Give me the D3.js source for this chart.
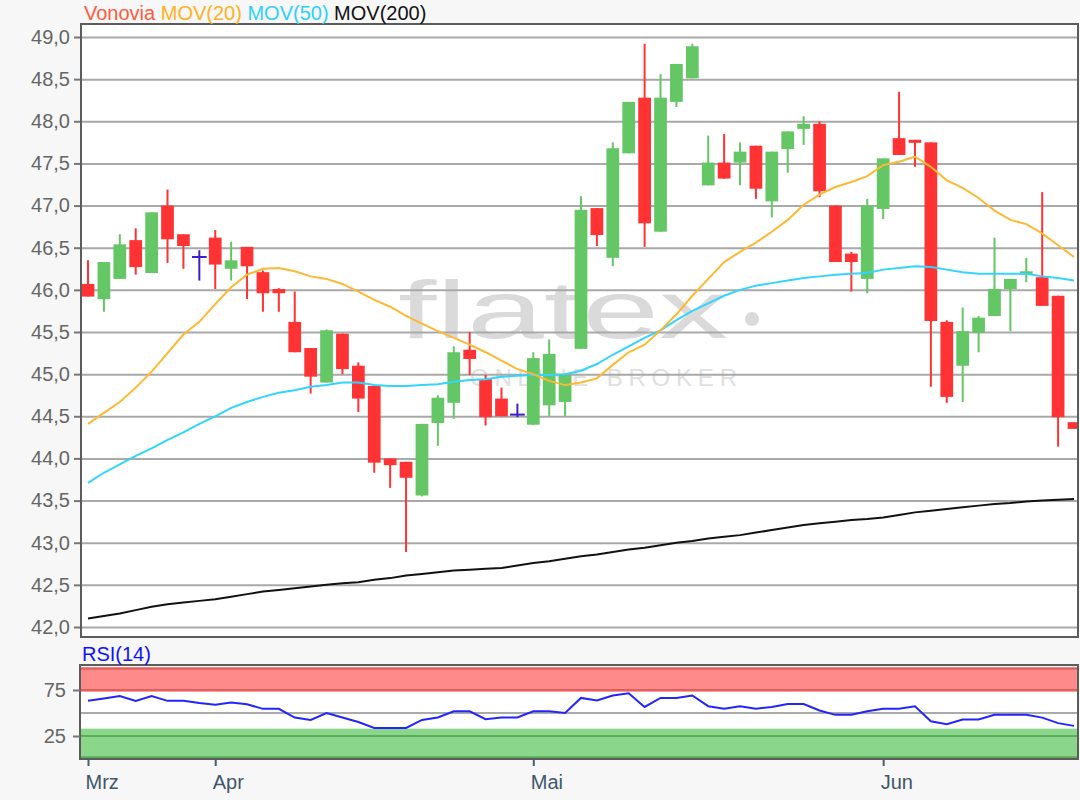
<!DOCTYPE html>
<html>
<head>
<meta charset="utf-8">
<script src="https://cdn.jsdelivr.net/npm/d3@7"></script>
<style>
  body { margin: 0; background: #f7f7f7; }
  svg text { font-family: "Liberation Sans", Arial, sans-serif; }
</style>
</head>
<body>
<svg id="chart" width="1080" height="800"></svg>
<script>
// Vonovia daily candles, mid-March to mid-June
const open = [46.07, 45.89, 46.13, 46.59, 46.20, 47.00, 46.66, 46.39, 46.62, 46.25,
  46.51, 46.21, 46.01, 45.62, 45.31, 44.90, 45.48, 45.10, 44.86, 44.00,
  43.96, 43.56, 44.42, 44.66, 45.29, 44.94, 44.71, 44.52, 44.40, 44.63,
  44.67, 45.30, 46.97, 46.38, 47.62, 48.28, 46.69, 48.23, 48.51, 47.24,
  47.51, 47.51, 47.71, 47.05, 47.67, 47.91, 47.97, 47.00, 46.43, 46.13,
  46.96, 47.80, 47.78, 47.75, 45.62, 45.10, 45.49, 45.69, 46.01, 46.19,
  46.15, 45.93, 44.43];
const high = [46.35, 46.33, 46.66, 46.73, 46.92, 47.19, 46.66, 46.47, 46.71, 46.57,
  46.51, 46.23, 46.02, 45.98, 45.31, 45.53, 45.48, 45.14, 44.86, 44.00,
  43.96, 44.41, 44.75, 45.33, 45.50, 44.99, 44.84, 44.65, 45.26, 45.41,
  44.99, 47.11, 46.97, 47.75, 48.23, 48.92, 48.56, 48.68, 48.92, 47.83,
  47.85, 47.75, 47.71, 47.64, 47.88, 48.06, 48.00, 47.00, 46.45, 47.08,
  47.56, 48.35, 47.78, 47.75, 45.64, 45.79, 45.69, 46.62, 46.13, 46.38,
  47.16, 45.93, 44.43];
const low = [45.92, 45.74, 46.13, 46.18, 46.20, 46.32, 46.25, 46.11, 46.01, 46.11,
  45.89, 45.74, 45.74, 45.26, 44.77, 44.90, 45.00, 44.55, 43.83, 43.65,
  42.89, 43.55, 44.15, 44.47, 44.99, 44.39, 44.50, 44.49, 44.40, 44.50,
  44.50, 45.30, 46.52, 46.28, 47.62, 46.51, 46.69, 48.17, 48.51, 47.24,
  47.32, 47.24, 47.08, 46.86, 47.39, 47.72, 47.10, 46.33, 45.98, 45.96,
  46.84, 47.60, 47.46, 44.85, 44.66, 44.67, 45.26, 45.69, 45.51, 46.09,
  45.81, 44.14, 44.35];
const close = [45.92, 46.33, 46.54, 46.27, 46.92, 46.60, 46.52, 46.39, 46.30, 46.35,
  46.28, 45.96, 45.96, 45.26, 44.97, 45.52, 45.06, 44.71, 43.95, 43.92,
  43.77, 44.41, 44.72, 45.26, 45.18, 44.49, 44.50, 44.52, 45.19, 45.24,
  44.99, 46.95, 46.65, 47.68, 48.23, 46.79, 48.28, 48.68, 48.89, 47.51,
  47.32, 47.64, 47.20, 47.64, 47.88, 47.97, 47.17, 46.33, 46.33, 47.00,
  47.56, 47.60, 47.75, 45.63, 44.73, 45.51, 45.67, 46.01, 46.13, 46.22,
  45.81, 44.49, 44.35];

const mov20 = [44.41, 44.54, 44.67, 44.84, 45.03, 45.25, 45.47, 45.62, 45.83, 46.03,
  46.18, 46.25, 46.26, 46.22, 46.16, 46.13, 46.07, 45.98, 45.88, 45.80,
  45.69, 45.60, 45.51, 45.43, 45.35, 45.26, 45.16, 45.06, 45.00, 44.92,
  44.87, 44.90, 44.95, 45.11, 45.26, 45.35, 45.52, 45.71, 45.93, 46.13,
  46.33, 46.45, 46.56, 46.69, 46.83, 47.01, 47.13, 47.22, 47.28, 47.35,
  47.48, 47.52, 47.58, 47.46, 47.30, 47.21, 47.09, 46.94, 46.83, 46.78,
  46.67, 46.53, 46.39];
const mov50 = [43.71, 43.83, 43.93, 44.03, 44.12, 44.22, 44.31, 44.41, 44.50, 44.60,
  44.67, 44.73, 44.78, 44.81, 44.85, 44.87, 44.90, 44.90, 44.87, 44.86,
  44.86, 44.87, 44.88, 44.91, 44.93, 44.94, 44.97, 44.98, 44.99, 44.99,
  45.00, 45.04, 45.12, 45.23, 45.33, 45.43, 45.52, 45.64, 45.75, 45.84,
  45.93, 46.00, 46.05, 46.08, 46.11, 46.14, 46.16, 46.18, 46.19, 46.20,
  46.24, 46.26, 46.28, 46.27, 46.24, 46.21, 46.19, 46.19, 46.19, 46.19,
  46.16, 46.14, 46.11];
const mov200 = [42.10, 42.13, 42.16, 42.20, 42.24, 42.27, 42.29, 42.31, 42.33, 42.36,
  42.39, 42.42, 42.44, 42.46, 42.48, 42.50, 42.52, 42.53, 42.56, 42.58,
  42.61, 42.63, 42.65, 42.67, 42.68, 42.69, 42.70, 42.73, 42.76, 42.78,
  42.81, 42.84, 42.86, 42.89, 42.92, 42.94, 42.97, 43.00, 43.02, 43.05,
  43.07, 43.09, 43.12, 43.15, 43.18, 43.21, 43.23, 43.25, 43.27, 43.28,
  43.30, 43.33, 43.36, 43.38, 43.40, 43.42, 43.44, 43.46, 43.47, 43.49,
  43.50, 43.51, 43.52];

const rsi = [63.2, 65.8, 68.4, 63.2, 68.4, 63.2, 63.2, 60.9, 59.0, 61.3,
  59.4, 54.5, 54.5, 45.1, 42.5, 50.0, 45.1, 40.2, 33.8, 33.8,
  33.8, 42.5, 45.1, 51.9, 51.9, 43.2, 45.1, 45.1, 51.8, 52.0,
  50.0, 66.4, 63.6, 69.1, 71.4, 56.6, 66.4, 66.4, 69.1, 57.4,
  54.7, 57.4, 54.7, 56.6, 59.7, 59.7, 52.7, 48.0, 48.0, 52.0,
  54.7, 54.7, 57.4, 41.0, 37.9, 43.0, 43.0, 48.0, 48.0, 48.0,
  45.0, 39.0, 36.0];

const priceTicks = [42, 42.5, 43, 43.5, 44, 44.5, 45, 45.5, 46, 46.5, 47, 47.5, 48, 48.5, 49];
const rsiTicks = [25, 75];
const rsiOverbought = [73, 100];
const rsiOversold = [0, 33];
const monthLabels = ['Mrz', 'Apr', 'Mai', 'Jun'];
const monthStart = [0, 8, 28, 50];   // candle index of first trading day shown

const legend = [
  { label: 'Vonovia', color: '#ff5a3c' },
  { label: 'MOV(20)', color: '#ffb21e' },
  { label: 'MOV(50)', color: '#2ed0ff' },
  { label: 'MOV(200)', color: '#111111' },
];

const svg = d3.select('#chart');
const plot = { left: 81, right: 1078, top: 24, bottom: 637 };
const rsiBox = { left: 80, right: 1078, top: 665, bottom: 759 };

const x = d3.scaleLinear().domain([0, close.length - 1]).range([88, 1074]);
const y = d3.scaleLinear().domain([42, 49]).range([627, 37]);
const yR = d3.scaleLinear().domain([0, 100]).range([759, 667]);
const step = x(1) - x(0);
const bodyW = step * 0.8;

const de = d3.formatLocale({ decimal: ',', thousands: '.', grouping: [3], currency: ['', ' €'] });
const fmt = de.format('.1f');

svg.append('clipPath').attr('id', 'plot-clip')
  .append('rect')
    .attr('x', plot.left).attr('y', plot.top)
    .attr('width', plot.right - plot.left).attr('height', plot.bottom - plot.top);

// Plot background
svg.append('rect')
  .attr('x', plot.left).attr('y', plot.top)
  .attr('width', plot.right - plot.left).attr('height', plot.bottom - plot.top)
  .attr('fill', '#fff');

// Watermark
const wm = svg.append('g').attr('fill', '#dadada');
wm.append('text')
  .attr('x', 398).attr('y', 338)
  .attr('font-family', '"Open Sans", sans-serif')
  .attr('font-weight', 400)
  .attr('font-size', 82)
  .attr('textLength', 330)
  .attr('lengthAdjust', 'spacingAndGlyphs')
  .text('flatex');
wm.append('circle').attr('cx', 752).attr('cy', 319).attr('r', 7);
wm.append('text')
  .attr('x', 470).attr('y', 386)
  .attr('font-family', '"Open Sans", sans-serif')
  .attr('font-size', 24)
  .attr('fill', '#e0e0e0')
  .attr('textLength', 267)
  .attr('lengthAdjust', 'spacing')
  .text('ONLINE BROKER');

// Grid lines
svg.append('g')
  .attr('transform', `translate(${plot.left}, 0)`)
  .call(d3.axisRight(y).tickValues(priceTicks).tickSize(plot.right - plot.left).tickFormat(''))
  .call(g => g.select('.domain').remove())
  .call(g => g.selectAll('.tick line').attr('stroke', '#a9a9a9').attr('stroke-width', 2));

// Y labels
svg.append('g')
  .attr('transform', `translate(${plot.left}, 0)`)
  .call(d3.axisLeft(y).tickValues(priceTicks).tickSize(7).tickPadding(4).tickFormat(fmt))
  .call(g => g.select('.domain').remove())
  .call(g => g.selectAll('.tick line').attr('stroke', '#777').attr('stroke-width', 2))
  .call(g => g.selectAll('.tick text')
    .attr('fill', '#666').attr('font-size', 20)
    .attr('font-family', '"Liberation Sans", Arial, sans-serif'));

// Candles
const candles = svg.append('g').attr('clip-path', 'url(#plot-clip)');
const idx = d3.range(close.length);
const up = '#64c664', down = '#ff3333', flat = '#3b1fd0';
const colorOf = i => close[i] > open[i] ? up : (close[i] < open[i] ? down : flat);

candles.selectAll('.wick')
  .data(idx)
  .enter().append('line')
    .attr('class', 'wick')
    .attr('x1', i => x(i)).attr('x2', i => x(i))
    .attr('y1', i => y(high[i])).attr('y2', i => y(low[i]))
    .attr('stroke', colorOf)
    .attr('stroke-width', 2);

candles.selectAll('.body')
  .data(idx.filter(i => open[i] !== close[i]))
  .enter().append('rect')
    .attr('class', 'body')
    .attr('x', i => x(i) - bodyW / 2)
    .attr('y', i => y(Math.max(open[i], close[i])))
    .attr('width', bodyW)
    .attr('height', i => Math.max(3, y(Math.min(open[i], close[i])) - y(Math.max(open[i], close[i]))))
    .attr('fill', colorOf);

candles.selectAll('.doji')
  .data(idx.filter(i => open[i] === close[i]))
  .enter().append('line')
    .attr('class', 'doji')
    .attr('x1', i => x(i) - bodyW / 2 - 1).attr('x2', i => x(i) + bodyW / 2 + 1)
    .attr('y1', i => y(open[i])).attr('y2', i => y(open[i]))
    .attr('stroke', flat)
    .attr('stroke-width', 2);

// Moving averages
const line = d3.line().x((d, i) => x(i)).y(d => y(d));
[[mov200, '#111'], [mov50, '#33d4ff'], [mov20, '#ffb833']].forEach(([s, c]) => {
  candles.append('path')
    .datum(s)
    .attr('d', line)
    .attr('fill', 'none')
    .attr('stroke', c)
    .attr('stroke-width', 2);
});

// Plot frame
svg.append('rect')
  .attr('x', plot.left).attr('y', plot.top)
  .attr('width', plot.right - plot.left).attr('height', plot.bottom - plot.top)
  .attr('fill', 'none')
  .attr('stroke', '#5c5c5c')
  .attr('stroke-width', 2);

// Legend header
const head = svg.append('text')
  .attr('x', 84).attr('y', 20)
  .attr('font-size', 20);
legend.forEach((d, k) => {
  head.append('tspan')
    .attr('fill', d.color)
    .text((k ? ' ' : '') + d.label);
});

// RSI panel
svg.append('rect')
  .attr('x', rsiBox.left).attr('y', rsiBox.top)
  .attr('width', rsiBox.right - rsiBox.left).attr('height', rsiBox.bottom - rsiBox.top)
  .attr('fill', '#fff');

svg.append('rect')
  .attr('x', rsiBox.left).attr('y', yR(rsiOverbought[1]))
  .attr('width', rsiBox.right - rsiBox.left)
  .attr('height', yR(rsiOverbought[0]) - yR(rsiOverbought[1]))
  .attr('fill', '#ff8a8a');
svg.append('rect')
  .attr('x', rsiBox.left).attr('y', yR(rsiOversold[1]))
  .attr('width', rsiBox.right - rsiBox.left)
  .attr('height', yR(rsiOversold[0]) - yR(rsiOversold[1]))
  .attr('fill', '#8ad68a');

// band edge lines
svg.append('g')
  .selectAll('line')
  .data([[98, '#e06060'], [75, '#e06060'], [25, '#5aae5a'], [2, '#5aae5a'], [50, '#aaa']])
  .enter().append('line')
    .attr('x1', rsiBox.left).attr('x2', rsiBox.right)
    .attr('y1', d => yR(d[0])).attr('y2', d => yR(d[0]))
    .attr('stroke', d => d[1])
    .attr('stroke-width', 2);

svg.append('path')
  .datum(rsi)
  .attr('d', d3.line().x((d, i) => x(i)).y(d => yR(d)))
  .attr('fill', 'none')
  .attr('stroke', '#2424ff')
  .attr('stroke-width', 2);

svg.append('rect')
  .attr('x', rsiBox.left).attr('y', rsiBox.top)
  .attr('width', rsiBox.right - rsiBox.left).attr('height', rsiBox.bottom - rsiBox.top)
  .attr('fill', 'none')
  .attr('stroke', '#5c5c5c')
  .attr('stroke-width', 2);

svg.append('g')
  .attr('transform', `translate(${rsiBox.left}, 0)`)
  .call(d3.axisLeft(yR).tickValues(rsiTicks).tickSize(7).tickPadding(7))
  .call(g => g.select('.domain').remove())
  .call(g => g.selectAll('.tick line').attr('stroke', '#777').attr('stroke-width', 2))
  .call(g => g.selectAll('.tick text')
    .attr('fill', '#666').attr('font-size', 20)
    .attr('font-family', '"Liberation Sans", Arial, sans-serif'));

svg.append('text')
  .attr('x', 82).attr('y', 661)
  .attr('font-size', 20)
  .attr('fill', '#1010ff')
  .text('RSI(14)');

// Month axis
svg.append('g')
  .attr('transform', `translate(0, ${rsiBox.bottom})`)
  .call(d3.axisBottom(x).tickValues(monthStart).tickSize(7).tickFormat((d, k) => monthLabels[k]))
  .call(g => g.select('.domain').remove())
  .call(g => g.selectAll('.tick line').attr('stroke', '#4a5e72').attr('stroke-width', 2))
  .call(g => g.selectAll('.tick text')
    .attr('fill', '#3f566c').attr('font-size', 20)
    .attr('text-anchor', 'start')
    .attr('dx', -3).attr('dy', 20)
    .attr('font-family', '"Liberation Sans", Arial, sans-serif'));
</script>
</body>
</html>
